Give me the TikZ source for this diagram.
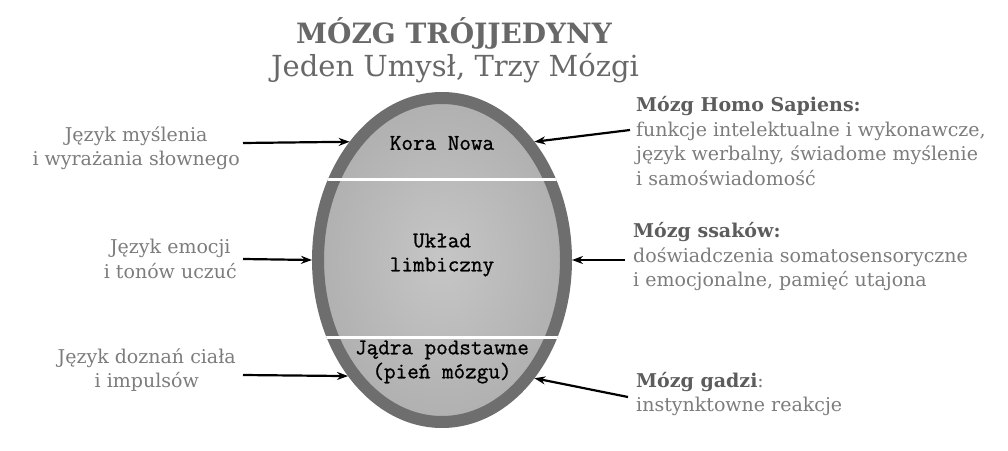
\documentclass[tikz,border=0pt]{standalone}
\usepackage{fontspec}
\setmainfont{DejaVu Serif}
\newfontfamily\layerfont[FakeBold=1]{Latin Modern Mono}
\usetikzlibrary{positioning}
\usetikzlibrary{shapes.geometric}
\usetikzlibrary{arrows.meta}

\definecolor{rimgray}{HTML}{6E6E6E}
\definecolor{titlegray}{HTML}{686868}
\definecolor{headgray}{HTML}{5C5C5C}
\definecolor{bodygray}{HTML}{7C7C7C}

\tikzset{
    bodytext/.style={font=\fontsize{19}{24.5}\selectfont, text=bodygray, inner sep=0pt},
    layertext/.style={font=\fontsize{22.5}{24}\selectfont\layerfont, align=center, inner sep=0pt},
    pointer/.style={-{Stealth[length=11pt, width=8pt]}, line width=2.2pt, black}
}

\begin{document}
\begin{tikzpicture}[x=1pt, y=1pt]
        \useasboundingbox (0,0) rectangle (1008,450);

        % Title
        \node (title) at (454,417) {\fontsize{28}{30}\selectfont\bfseries\color{titlegray}MÓZG TRÓJJEDYNY};
        \node (subtitle) at (455,382) {\fontsize{29}{30}\selectfont\color{titlegray}Jeden Umysł, Trzy Mózgi};

        % Brain
        \node[ellipse, draw=rimgray, line width=12pt, minimum width=248pt, minimum height=324pt,
              inner sep=0pt, shading=radial, inner color={rgb,255:red,198;green,198;blue,198},
              outer color={rgb,255:red,176;green,176;blue,176}] (brain) at (442,190) {};
        \begin{scope}
            \clip (442,190) ellipse (130 and 168);
            \draw[white, line width=3pt] (300,270) -- (590,270); % upper border
            \draw[white, line width=3pt] (300,113) -- (590,113); % lower border
        \end{scope}

        % Layers
        \node[layertext] (kora) at (442,307) {Kora Nowa};
        \node[layertext] (limbic) at (442,195) {Układ\\ limbiczny};
        \node[layertext] (jadra) at (442,88) {Jądra podstawne\\(pień mózgu)};

        % Left side
        \node[bodytext, align=center, anchor=east] (think) at (240,302) {Język myślenia\\i wyrażania słownego};
        \node[bodytext, align=center, anchor=east] (emo) at (237,191) {Język emocji\\i tonów uczuć};
        \node[bodytext, align=center, anchor=east] (body) at (236,80) {Język doznań ciała\\i impulsów};

        \coordinate (thinkA) at (243,307);
        \coordinate (emoA) at (243,191);
        \coordinate (bodyA) at (243,75);
        \draw[pointer] (thinkA) -- (brain.128);
        \draw[pointer] (emoA) -- (brain.180);
        \draw[pointer] (bodyA) -- (brain.231);

        % Right side
        \node[bodytext, align=left, anchor=west] (homo) at (636,309)
            {\textbf{\color{headgray}Mózg Homo Sapiens:}\\funkcje intelektualne i wykonawcze,\\język werbalny, świadome myślenie\\i samoświadomość};
        \node[bodytext, align=left, anchor=west] (ssak) at (633,193)
            {\textbf{\color{headgray}Mózg ssaków:}\\doświadczenia somatosensoryczne\\i emocjonalne, pamięć utajona};
        \node[bodytext, align=left, anchor=west] (gad) at (636,56)
            {\textbf{\color{headgray}Mózg gadzi}:\\instynktowne reakcje};

        \coordinate (homoA) at (630,320);
        \coordinate (ssakA) at (625,190);
        \coordinate (gadA) at (628,53);
        \draw[pointer] (homoA) -- (brain.52);
        \draw[pointer] (ssakA) -- (brain.0);
        \draw[pointer] (gadA) -- (brain.308);
\end{tikzpicture}
\end{document}
